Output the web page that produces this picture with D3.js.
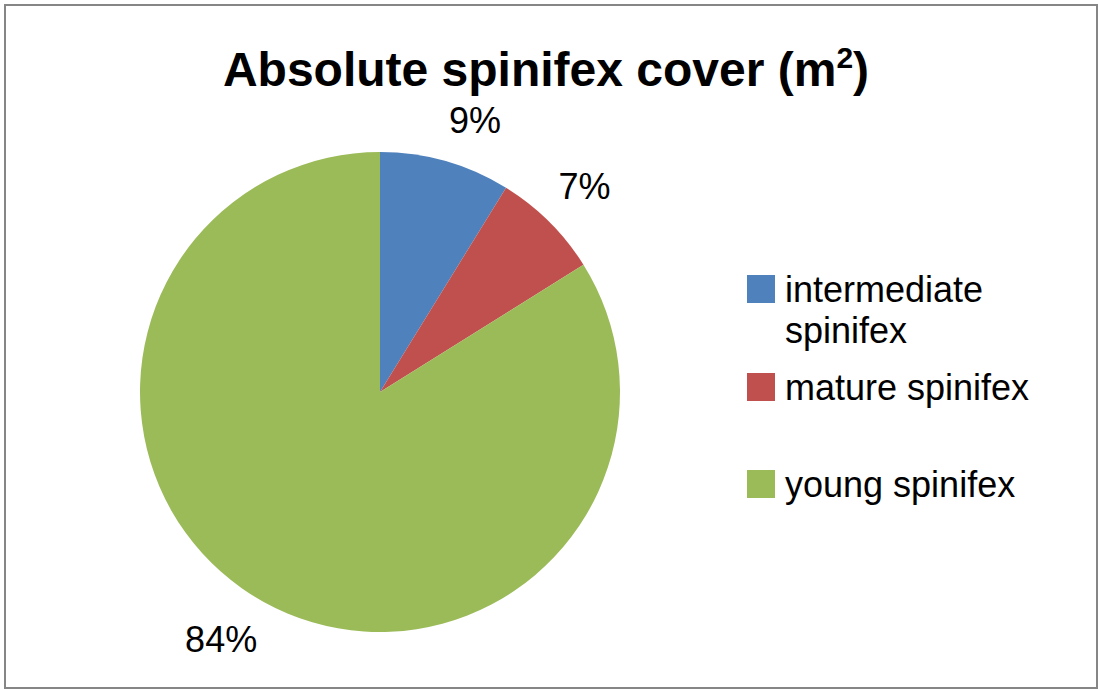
<!DOCTYPE html>
<html lang="en">
<head>
	<meta charset="UTF-8">
	<title>Absolute spinifex cover</title>
	<style>
		body { margin: 0; background: #fff; }
		text { font-family: "Liberation Sans", Arial, sans-serif; fill: #000; }
	</style>
</head>
<body>
	<script src="https://d3js.org/d3.v7.min.js" charset="utf-8"></script>
	<script>
		var categories = ["intermediate spinifex", "mature spinifex", "young spinifex"];
		var legendLines = [["intermediate", "spinifex"], ["mature spinifex"], ["young spinifex"]];
		var values = [8.8, 7.3, 83.9];
		var percentLabels = ["9%", "7%", "84%"];
		var colors = ["#4F81BD", "#C0504D", "#9BBB59"];

		var w = 1100,
			h = 690,
			cx = 380,
			cy = 392,
			radius = 240;

		var svg = d3.select("body")
			.append("svg")
			.attr("width", w)
			.attr("height", h);

		// outer frame
		svg.append("rect")
			.attr("x", 5)
			.attr("y", 5)
			.attr("width", 1092)
			.attr("height", 683)
			.attr("fill", "#fff")
			.attr("stroke", "#868686")
			.attr("stroke-width", 2);

		// title
		var title = svg.append("text")
			.attr("x", 546)
			.attr("y", 86)
			.attr("text-anchor", "middle")
			.style("font-size", "48px")
			.style("font-weight", "bold");
		title.append("tspan").text("Absolute spinifex cover (m");
		title.append("tspan").attr("dy", -18).style("font-size", "30px").text("2");
		title.append("tspan").attr("dy", 18).text(")");

		var pie = d3.pie().sort(null).value(function(d) { return d; });
		var arcs = pie(values);

		var arc = d3.arc().innerRadius(0).outerRadius(radius);

		var g = svg.append("g").attr("transform", "translate(" + cx + "," + cy + ")");

		g.selectAll("path")
			.data(arcs)
			.enter()
			.append("path")
			.attr("d", arc)
			.attr("fill", function(d, i) { return colors[i]; });

		// data labels; pushed a little clockwise on the first and last slice, like Excel's best fit
		var nudge = [{ a: 0.06, r: -2 }, { a: 0, r: 0 }, { a: 0.065, r: 4 }];
		g.selectAll("text.pct")
			.data(arcs)
			.enter()
			.append("text")
			.attr("class", "pct")
			.attr("text-anchor", "middle")
			.style("font-size", "36px")
			.attr("transform", function(d, i) {
				var mid = (d.startAngle + d.endAngle) / 2 + nudge[i].a;
				var r = 290 + nudge[i].r;
				return "translate(" + (Math.sin(mid) * r) + "," + (-Math.cos(mid) * r + 13) + ")";
			})
			.text(function(d, i) { return percentLabels[i]; });

		// legend
		var legendY = [275, 373, 470];
		var legend = svg.selectAll("g.legend")
			.data(categories)
			.enter()
			.append("g")
			.attr("class", "legend")
			.attr("transform", function(d, i) { return "translate(747," + legendY[i] + ")"; });

		legend.append("rect")
			.attr("width", 28)
			.attr("height", 28)
			.attr("fill", function(d, i) { return colors[i]; });

		legend.append("text")
			.style("font-size", "36px")
			.each(function(d, i) {
				var t = d3.select(this);
				legendLines[i].forEach(function(line, j) {
					t.append("tspan")
						.attr("x", 38)
						.attr("y", 27 + j * 41)
						.text(line);
				});
			});
	</script>
</body>
</html>
